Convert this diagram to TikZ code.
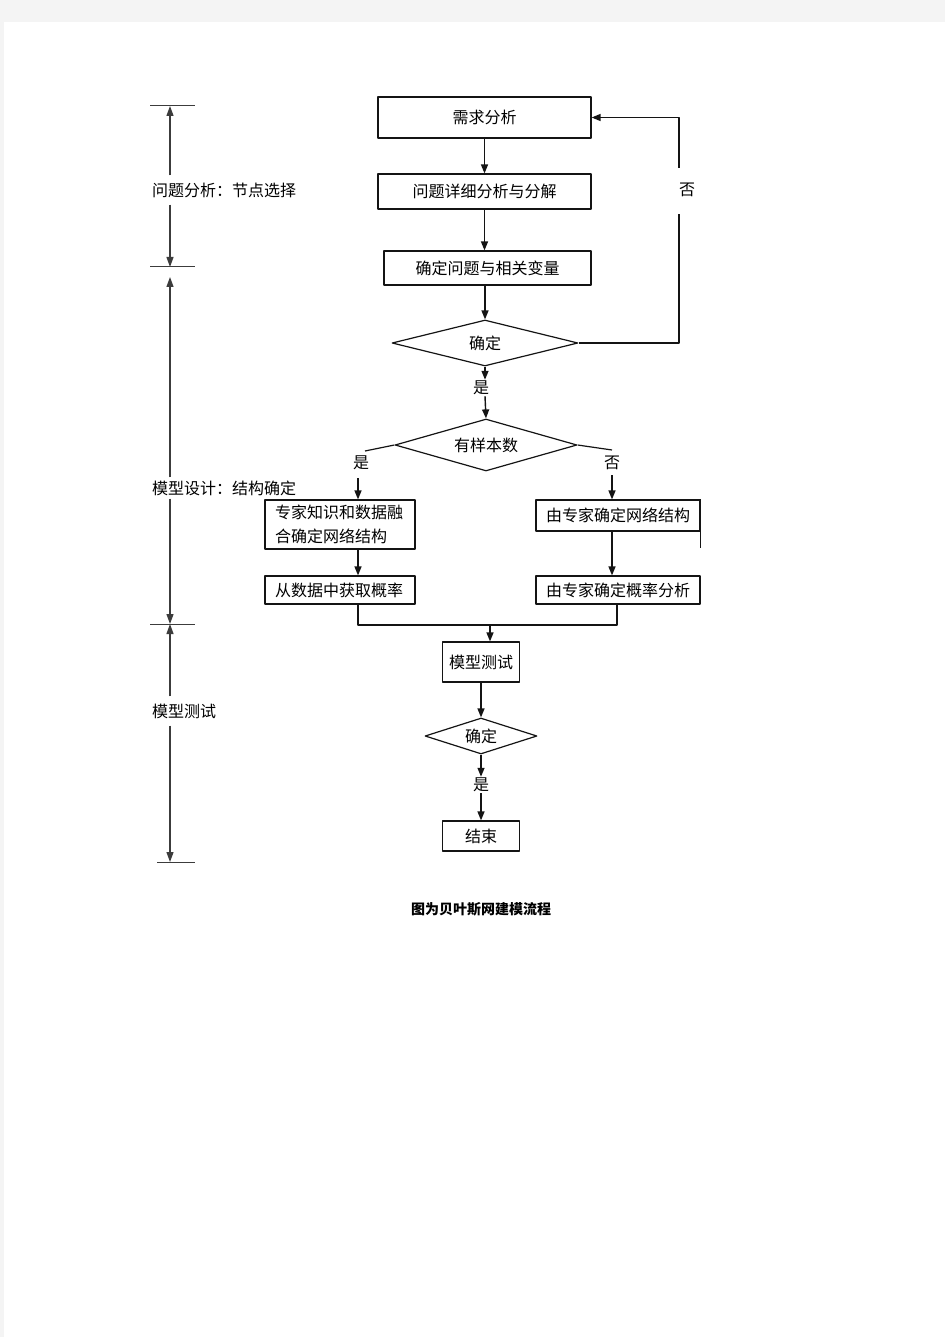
\documentclass[tikz,border=0pt]{standalone}
\usepackage{fontspec}
\newfontfamily\cjk{Noto Sans CJK SC}
\usetikzlibrary{arrows.meta,shapes.geometric}
\newcommand{\Edge}{1.2pt}
\newcommand{\Body}{\cjk\fontsize{16}{24}\selectfont}
\definecolor{paper}{HTML}{F4F4F4}
\definecolor{ink}{HTML}{141414}
\definecolor{rule}{HTML}{3C3C3C}

\tikzset{
  stepbox/.style={draw=ink,line width=\Edge,rectangle,inner sep=0pt,font=\Body},
  decide/.style={draw=ink,line width=\Edge,diamond,aspect=4,inner sep=0pt,font=\Body},
  flow/.style={draw=ink,line width=1.4pt,-{Triangle[length=9pt,width=7pt]}},
  plain/.style={draw=ink,line width=1.2pt},
  tag/.style={font=\Body,inner sep=1pt},
  phase/.style={font=\Body,anchor=west,inner xsep=0pt,inner ysep=7pt},
  dim/.style={draw=rule,line width=1.2pt,-{Triangle[length=10pt,width=7pt]}},
  tick/.style={draw=rule,line width=1pt},
}

\begin{document}
\begin{tikzpicture}[x=1pt,y=-1pt, line join=round]

  % ---- page -----------------------------------------------------------------
  \fill[paper] (0,0) rectangle (945,1337);
  \fill[white] (4,22) rectangle (945,1337);

  % ---- problem analysis -----------------------------------------------------
  \node[stepbox,minimum width=213pt,minimum height=41pt] (need) at (484.5,117.5) {需求分析};
  \node[stepbox,minimum width=213pt,minimum height=35pt] (detail) at (484.5,191.5) {问题详细分析与分解};
  \node[stepbox,minimum width=207pt,minimum height=34pt] (vars) at (487.5,268) {确定问题与相关变量};
  \node[decide,minimum width=186pt,minimum height=46pt] (okA) at (485,343) {确定};
  \node[tag] (noA) at (687,190) {否};
  \node[tag] (yesA) at (481,388) {是};
  \coordinate (loopLo) at (679,214);
  \coordinate (loopHi) at (679,168);

  \draw[flow] (need) -- (detail);
  \draw[flow] (detail.south) -- (detail.south |- vars.north);
  \draw[flow] (vars.south -| okA.north) -- (okA.north);
  \draw[plain] (okA.east) -| (loopLo);
  \draw[flow] (loopHi) |- (need.east);
  \draw[flow] (okA.south) -- (okA.south |- yesA.north);

  % ---- model design: two branches -------------------------------------------
  \node[decide,minimum width=182pt,minimum height=52pt] (sample) at (486,445) {有样本数};
  \draw[flow] (yesA.south -| okA.south) -- (sample.north);
  \coordinate (turnL) at (365,451);
  \coordinate (turnR) at (612,450);
  \node[tag] (yesB) at (361,463) {是};
  \node[tag] (noB) at (612,463) {否};
  \coordinate (dropL) at (358,478);
  \coordinate (dropR) at (612,475);

  \node[stepbox,minimum width=150pt,minimum height=49pt,text width=130pt,align=left] (fuse) at (340,524.5)
    {专家知识和数据融\\合确定网络结构};
  \node[stepbox,minimum width=150pt,minimum height=28pt,text width=130pt,align=left] (fromdata) at (340,590)
    {从数据中获取概率};
  \node[stepbox,minimum width=164pt,minimum height=31pt] (expert) at (618,515.5) {由专家确定网络结构};
  \node[stepbox,minimum width=164pt,minimum height=28pt] (expprob) at (618,590) {由专家确定概率分析};

  \draw[plain] (sample.west) -- (turnL);
  \draw[plain] (sample.east) -- (turnR);
  \draw[flow] (dropL) -- (dropL |- fuse.north);
  \draw[flow] (dropR) -- (dropR |- expert.north);
  \draw[flow] (dropL |- fuse.south) -- (dropL |- fromdata.north);
  \draw[flow] (dropR |- expert.south) -- (dropR |- expprob.north);
  \draw[plain] (expert.north east) -- ++(0,49); % the side of the box runs on

  % ---- merge and test -------------------------------------------------------
  \coordinate (join) at (490,625);
  \node[stepbox,minimum width=77pt,minimum height=40pt] (test) at (481,662) {模型测试};
  \node[decide,minimum width=112pt,minimum height=36pt] (okB) at (481,736) {确定};
  \node[tag] (yesC) at (481,785) {是};
  \node[stepbox,minimum width=77pt,minimum height=30pt] (finish) at (481,836) {结束};

  \draw[plain] (dropL |- fromdata.south) |- (join) -| ([xshift=-1pt]expprob.south);
  \draw[flow] (join) -- (join |- test.north);
  \draw[flow] (test) -- (okB);
  \draw[flow] (okB.south) -- (okB.south |- yesC.north);
  \draw[flow] (yesC) -- (finish);

  % ---- phases along the left ------------------------------------------------
  \foreach \y/\a in {106/150,267/150,624/150,862/157}
    \draw[tick] (\a,\y) -- (195,\y);
  \coordinate (m0) at (170,106);
  \coordinate (m1) at (170,267);
  \coordinate (m1b) at (170,277);
  \coordinate (m2) at (170,624);
  \coordinate (m3) at (170,862);

  \node[phase] (phA) at (152,190) {问题分析：节点选择};
  \node[phase,inner ysep=3pt] (phB) at (152,488) {模型设计：结构确定};
  \node[phase] (phC) at (152,711) {模型测试};

  \draw[dim] (phA.north -| m0) -- (m0);
  \draw[dim] (phA.south -| m0) -- (m1);
  \draw[dim] (phB.north -| m0) -- (m1b);
  \draw[dim] (phB.south -| m0) -- (m2);
  \draw[dim] (phC.north -| m0) -- (m2);
  \draw[dim] (phC.south -| m0) -- (m3);

  % ---- caption --------------------------------------------------------------
  \node[font=\cjk\bfseries\fontsize{14}{16}\selectfont] (caption) at (481,909) {图为贝叶斯网建模流程};

\end{tikzpicture}
\end{document}
